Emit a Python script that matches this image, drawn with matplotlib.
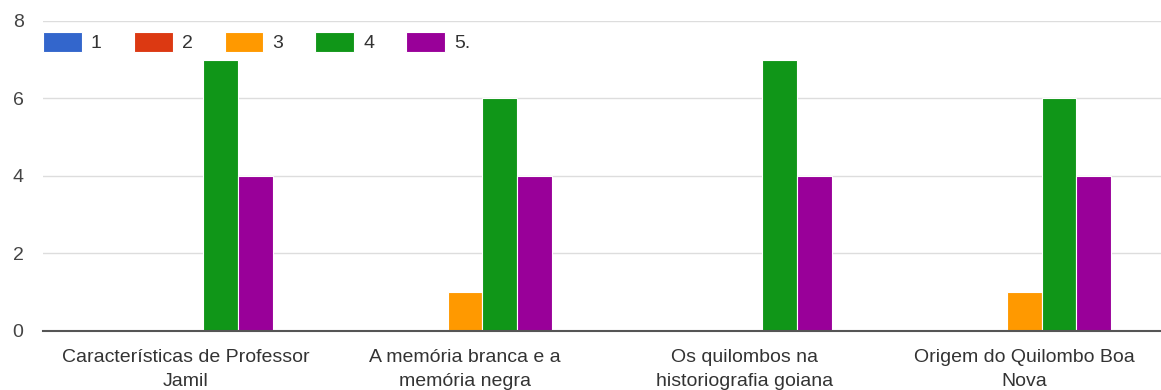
import numpy as np
import matplotlib
matplotlib.use('Agg')
import matplotlib.pyplot as plt

plt.rcParams['font.family'] = ['Liberation Sans', 'DejaVu Sans']

categories = [
    'Características de Professor\nJamil',
    'A memória branca e a\nmemória negra',
    'Os quilombos na\nhistoriografia goiana',
    'Origem do Quilombo Boa\nNova',
]
series_names = ['1', '2', '3', '4', '5.']
series_values = [
    [0, 0, 0, 0],  # 1
    [0, 0, 0, 0],  # 2
    [0, 1, 0, 1],  # 3
    [7, 6, 7, 6],  # 4
    [4, 4, 4, 4],  # 5.
]
colors = ['#3366cc', '#dc3912', '#ff9900', '#109618', '#990099']

fig = plt.figure(figsize=(11.61, 3.9), dpi=100)
ax = fig.add_axes([0.037, 0.1513, 0.963, 0.7949])

x = np.arange(len(categories))
width = 0.125
for i, (name, vals) in enumerate(zip(series_names, series_values)):
    offset = (i - 2) * width
    ax.bar(x + offset, vals, width, color=colors[i], edgecolor='white',
           linewidth=0.8, label=name, zorder=3)

ax.set_xlim(-0.51, 3.49)
ax.set_ylim(0, 8)
ax.set_yticks([0, 2, 4, 6, 8])
ax.set_xticks(x)
ax.set_xticklabels(categories, fontsize=14, color='#333333', linespacing=1.55)
ax.tick_params(axis='y', length=0, pad=14, labelsize=14, labelcolor='#444444')
ax.tick_params(axis='x', length=0, pad=13)
ax.grid(axis='y', color='#dddddd', linewidth=1, zorder=0)
for side in ['top', 'right', 'left']:
    ax.spines[side].set_visible(False)
ax.spines['bottom'].set_color('#555555')
ax.spines['bottom'].set_linewidth(1.5)
ax.spines['bottom'].set_zorder(4)

leg = ax.legend(loc='center left', bbox_to_anchor=(0.0, 0.932), ncol=5,
                frameon=False, fontsize=14, handlelength=2.0, handleheight=1.2,
                handletextpad=0.46, columnspacing=1.65, borderaxespad=0,
                borderpad=0)
for t in leg.get_texts():
    t.set_color('#333333')

fig.savefig('out.png', dpi=100)
